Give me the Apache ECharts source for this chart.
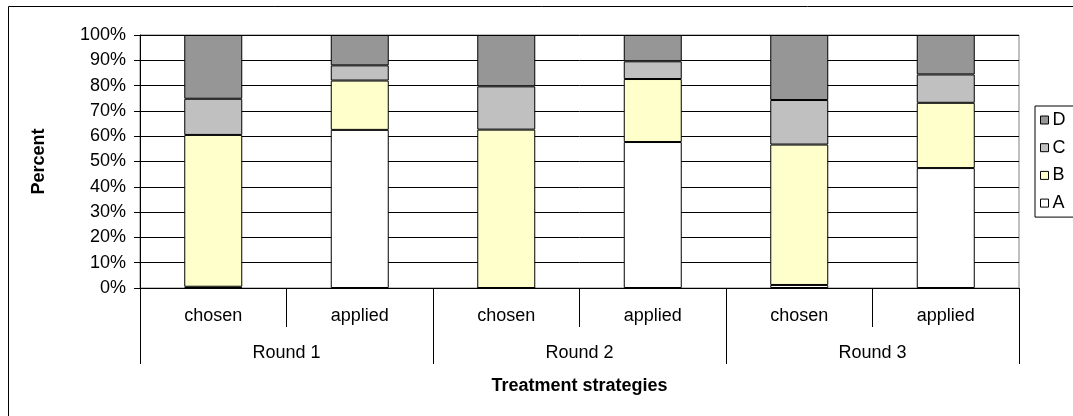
<!DOCTYPE html>
<html>
<head>
<meta charset="utf-8">
<script src="https://cdn.jsdelivr.net/npm/echarts@6/dist/echarts.min.js"></script>
<style>
  html, body { margin: 0; padding: 0; background: #fff; }
  #chart { width: 1073px; height: 416px; }
</style>
</head>
<body>
<div id="chart"></div>
<script>
// Treatment strategies per round, shares of A–D in percent
const strategies = ['chosen', 'applied', 'chosen', 'applied', 'chosen', 'applied'];
const rounds = ['Round 1', 'Round 2', 'Round 3'];
const shareA = [0.5, 62.5, 0, 57.7, 1.2, 47.4];
const shareB = [60.0, 19.5, 62.6, 24.9, 55.5, 25.8];
const shareC = [14.3, 6.0, 17.1, 7.0, 17.6, 11.2];
const shareD = [25.2, 12.0, 20.3, 10.4, 25.7, 15.6];
const seriesNames = ['A', 'B', 'C', 'D'];
const seriesColors = ['#FFFFFF', '#FFFFCC', '#C0C0C0', '#969696'];

const FONT = "'Liberation Sans', Arial, sans-serif";
const FS = 18;
const chart = echarts.init(document.getElementById('chart'), null, { renderer: 'canvas' });

function barSeries(name, data, color) {
  return {
    name: name,
    type: 'bar',
    stack: 'total',
    xAxisIndex: 0,
    barWidth: 58,
    data: data,
    itemStyle: { color: color, borderColor: '#000', borderWidth: 1 },
    emphasis: { disabled: true },
    animation: false
  };
}

chart.setOption({
  animation: false,
  textStyle: { fontFamily: FONT },
  grid: {
    left: 140, right: 54, top: 35, bottom: 128,
    show: true, borderColor: '#808080', borderWidth: 1, backgroundColor: '#fff'
  },
  legend: {
    orient: 'vertical',
    left: 1035,
    top: 106,
    data: ['D', 'C', 'B', 'A'],
    itemWidth: 8,
    itemHeight: 8,
    itemGap: 9.7,
    icon: 'rect',
    padding: [5, 40, 5, 5],
    borderColor: '#000',
    borderWidth: 1,
    selectedMode: false,
    textStyle: { fontFamily: FONT, fontSize: FS, color: '#000', padding: [0, 0, 0, -1] },
    itemStyle: { borderColor: '#000', borderWidth: 1 }
  },
  xAxis: [
    {
      type: 'category',
      data: strategies,
      position: 'bottom',
      axisLine: { show: true, lineStyle: { color: '#000', width: 1 } },
      axisTick: { show: true, length: 39, lineStyle: { color: '#000' } },
      axisLabel: { color: '#000', fontSize: FS, fontFamily: FONT, margin: 19 },
      splitLine: { show: false }
    },
    {
      type: 'category',
      data: rounds,
      position: 'bottom',
      axisLine: { show: false },
      axisTick: { show: true, length: 76, lineStyle: { color: '#000' } },
      axisLabel: { color: '#000', fontSize: FS, fontFamily: FONT, margin: 56 },
      splitLine: { show: false },
      name: 'Treatment strategies',
      nameLocation: 'middle',
      nameGap: 89,
      nameTextStyle: { color: '#000', fontSize: FS, fontWeight: 'bold', fontFamily: FONT }
    }
  ],
  yAxis: {
    type: 'value',
    min: 0,
    max: 100,
    interval: 10,
    axisLine: { show: true, lineStyle: { color: '#000' } },
    axisTick: { show: true, length: 6, lineStyle: { color: '#000' } },
    axisLabel: { color: '#000', fontSize: FS, fontFamily: FONT, margin: 14, formatter: '{value}%' },
    splitLine: { show: true, lineStyle: { color: '#000', width: 1 } },
    name: 'Percent',
    nameLocation: 'middle',
    nameGap: 92,
    nameTextStyle: { color: '#000', fontSize: FS, fontWeight: 'bold', fontFamily: FONT }
  },
  series: [
    barSeries(seriesNames[0], shareA, seriesColors[0]),
    barSeries(seriesNames[1], shareB, seriesColors[1]),
    barSeries(seriesNames[2], shareC, seriesColors[2]),
    barSeries(seriesNames[3], shareD, seriesColors[3])
  ],
  graphic: [
    {
      type: 'rect',
      shape: { x: 8.5, y: 6.5, width: 1100, height: 440 },
      style: { fill: 'none', stroke: '#000', lineWidth: 1 },
      silent: true,
      z: 100
    }
  ]
});
</script>
</body>
</html>
